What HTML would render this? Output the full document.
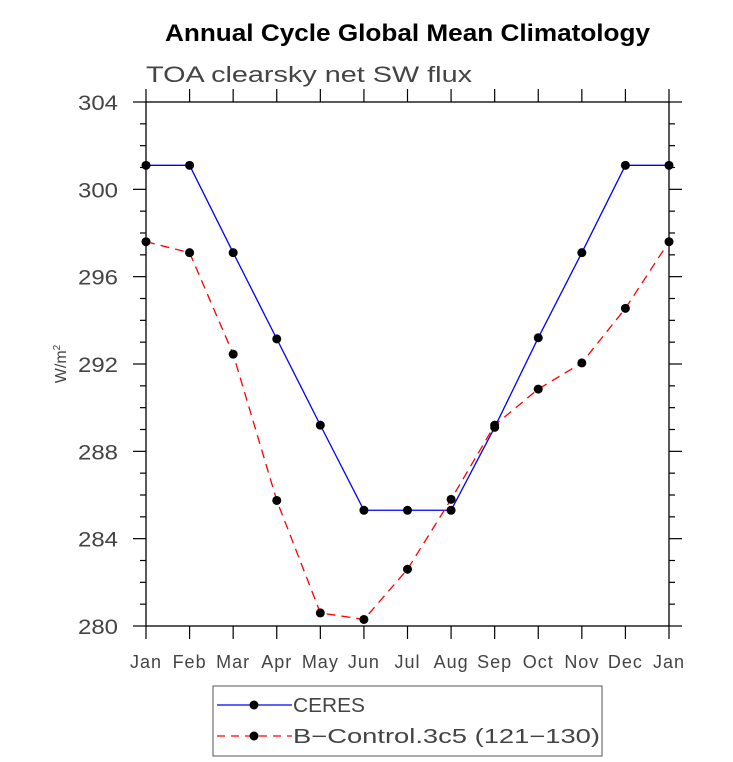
<!DOCTYPE html>
<html><head><meta charset="utf-8"><style>
html,body{margin:0;padding:0;background:#fff;}
svg{display:block;font-family:"Liberation Sans",sans-serif;}
</style></head><body>
<svg id="chart" width="733" height="762">
<text x="165" y="41" textLength="485" lengthAdjust="spacingAndGlyphs" font-size="24" font-weight="bold" fill="#000">Annual Cycle Global Mean Climatology</text>
<text x="146" y="82" textLength="326" lengthAdjust="spacingAndGlyphs" font-size="22" fill="#444">TOA clearsky net SW flux</text>
<text transform="translate(66,364) rotate(-90)" text-anchor="middle" font-size="16" fill="#444">W/m<tspan dy="-6" font-size="10">2</tspan></text>
<g id="axes"></g>
<g id="series"></g>
<g>
<rect x="213" y="686" width="389" height="70" fill="none" stroke="#555" stroke-width="1"/>
<line x1="217" y1="705" x2="292" y2="705" stroke="#00f" stroke-width="1.3"/>
<circle cx="254" cy="705" r="4.5" fill="#000"/>
<text x="293" y="712" textLength="72" lengthAdjust="spacingAndGlyphs" font-size="20" fill="#444">CERES</text>
<line x1="217" y1="736" x2="292" y2="736" stroke="#f00" stroke-width="1.3" stroke-dasharray="8,6"/>
<circle cx="254" cy="736" r="4.5" fill="#000"/>
<text x="293" y="743" textLength="307" lengthAdjust="spacingAndGlyphs" font-size="20" fill="#444">B−Control.3c5 (121−130)</text>
</g>
</svg>
<script>
const months = ["Jan","Feb","Mar","Apr","May","Jun","Jul","Aug","Sep","Oct","Nov","Dec","Jan"];
const ceres = [301.1,301.1,297.1,293.15,289.2,285.3,285.3,285.3,289.1,293.2,297.1,301.1,301.1];
const model = [297.6,297.1,292.45,285.75,280.6,280.3,282.6,285.8,289.2,290.85,292.05,294.55,297.6];
const yTicks = [280,284,288,292,296,300,304];
const NS="http://www.w3.org/2000/svg";
const X0=146,X1=669,Y0=626,Y1=102,ymin=280,ymax=304;
function xs(i){return X0+(X1-X0)*i/(months.length-1);}
function ys(v){return Y0-(v-ymin)/(ymax-ymin)*(Y0-Y1);}
function mk(tag,attrs,parent){const e=document.createElementNS(NS,tag);for(const k in attrs)e.setAttribute(k,attrs[k]);parent.appendChild(e);return e;}
const axes=document.getElementById('axes');
const frame=mk('rect',{x:X0,y:Y1,width:X1-X0,height:Y0-Y1,fill:'none',stroke:'#000','stroke-width':1.3},axes);


for(let v=ymin;v<=ymax;v++){
  const y=ys(v),major=(v%4===0),L=major?13:6;
  mk('line',{x1:X0-L,y1:y,x2:X0,y2:y,stroke:'#000','stroke-width':1.2},axes);
  mk('line',{x1:X1,y1:y,x2:X1+L,y2:y,stroke:'#000','stroke-width':1.2},axes);
}
yTicks.forEach(v=>{
  const t=mk('text',{x:X0-28,y:ys(v)+8,'text-anchor':'end','font-size':21,fill:'#444',textLength:40,lengthAdjust:'spacingAndGlyphs'},axes);
  t.textContent=v;
  
  
});
months.forEach((m,i)=>{
  const x=xs(i);
  mk('line',{x1:x,y1:Y0,x2:x,y2:Y0+13,stroke:'#000','stroke-width':1.2},axes);
  mk('line',{x1:x,y1:Y1-13,x2:x,y2:Y1,stroke:'#000','stroke-width':1.2},axes);
  const t=mk('text',{x:x,y:Y0+42,'text-anchor':'middle','font-size':18,fill:'#444','letter-spacing':'1'},axes);
  t.textContent=m;
  
  
});
const ser=document.getElementById('series');
function draw(vals,color,dash,name){
  const pts=vals.map((v,i)=>xs(i)+','+ys(v)).join(' ');
  const pl=mk('polyline',{points:pts,fill:'none',stroke:color,'stroke-width':1.3},ser);
  if(dash)pl.setAttribute('stroke-dasharray',dash);
  
  
  vals.forEach((v,i)=>{
    const c=mk('circle',{cx:xs(i),cy:ys(v),r:4.5,fill:'#000'},ser);
    
    
  });
}
draw(ceres,'#0000ff',null,'ceres');
draw(model,'#ff0000','9,6','model');
</script>
</body></html>
